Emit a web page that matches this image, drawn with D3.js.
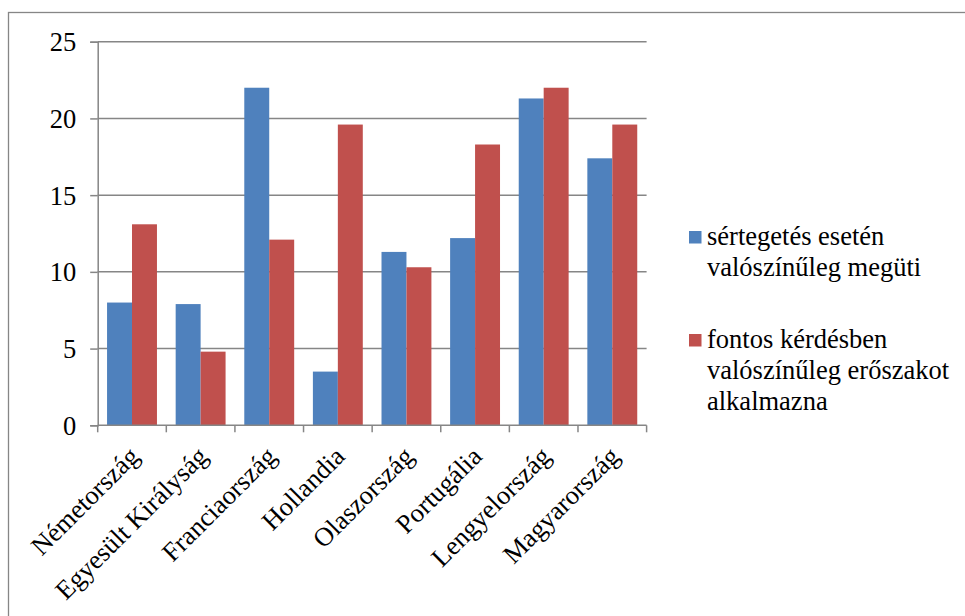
<!DOCTYPE html>
<html>
<head>
<meta charset="utf-8">
<script src="https://cdn.jsdelivr.net/npm/d3@7"></script>
<style>
	body { margin: 0; background: #fff; }
</style>
</head>
<body>
<svg></svg>
<script>
	// data
	let categories = ['Németország', 'Egyesült Királyság', 'Franciaország', 'Hollandia',
		'Olaszország', 'Portugália', 'Lengyelország', 'Magyarország'];
	let seriesNames = [
		['sértegetés esetén', 'valószínűleg megüti'],
		['fontos kérdésben', 'valószínűleg erőszakot', 'alkalmazna']
	];
	let hitValues = [8.0, 7.9, 22.0, 3.5, 11.3, 12.2, 21.3, 17.4];
	let forceValues = [13.1, 4.8, 12.1, 19.6, 10.3, 18.3, 22.0, 19.6];
	let yTicks = [0, 5, 10, 15, 20, 25];
	let colors = ['#4F81BD', '#C0504D'];

	let width = 965;
	let height = 616;
	let plot = { left: 97.7, right: 646.6, top: 41.7, bottom: 425.3 };
	let serif = 'Liberation Serif';
	let fontSize = 26.5;

	let svg = d3.select('svg')
		.attr('width', width)
		.attr('height', height)
		.attr('font-family', serif);

	// outer chart frame
	svg.append('rect')
		.attr('x', 8.5)
		.attr('y', 12.5)
		.attr('width', 1000)
		.attr('height', 700)
		.attr('fill', 'none')
		.attr('stroke', '#868686')
		.attr('stroke-width', 1.3);

	let x = d3.scaleBand()
		.domain(categories)
		.range([plot.left, plot.right]);

	let y = d3.scaleLinear()
		.domain([0, 25])
		.range([plot.bottom, plot.top]);

	let gap = x.bandwidth() * 0.75 / 2.75 / 2;
	let x1 = d3.scaleBand()
		.domain([0, 1])
		.range([gap, x.bandwidth() - gap]);

	// gridlines
	svg.append('g')
		.selectAll('line')
		.data(yTicks.slice(1))
		.enter()
		.append('line')
		.attr('x1', plot.left)
		.attr('x2', plot.right)
		.attr('y1', function(d) { return y(d); })
		.attr('y2', function(d) { return y(d); })
		.attr('stroke', '#868686')
		.attr('stroke-width', 1.5);

	// bars
	let rows = categories.map(function(c, i) {
		return { cat: c, vals: [hitValues[i], forceValues[i]] };
	});

	svg.append('g')
		.selectAll('g')
		.data(rows)
		.enter()
		.append('g')
		.attr('transform', function(d) { return 'translate(' + x(d.cat) + ',0)'; })
		.selectAll('rect')
		.data(function(d) { return d.vals; })
		.enter()
		.append('rect')
		.attr('x', function(d, i) { return x1(i); })
		.attr('width', x1.bandwidth())
		.attr('y', function(d) { return y(d); })
		.attr('height', function(d) { return y(0) - y(d); })
		.attr('fill', function(d, i) { return colors[i]; });

	// y axis
	let yAxis = svg.append('g')
		.attr('transform', 'translate(' + plot.left + ',0)')
		.call(d3.axisLeft(y).tickValues(yTicks).tickSize(7.5).tickPadding(14));
	yAxis.attr('font-family', serif).attr('font-size', fontSize);
	yAxis.select('.domain').attr('stroke', '#868686').attr('stroke-width', 1.5);
	yAxis.selectAll('.tick line').attr('stroke', '#868686').attr('stroke-width', 1.5);
	yAxis.selectAll('.tick text')
		.attr('fill', '#000')
		.attr('dy', '0.34em');

	// x axis
	let boundaries = categories.map(function(c) { return x(c); }).concat([plot.right]);
	let xAxis = svg.append('g');
	xAxis.append('line')
		.attr('x1', plot.left)
		.attr('x2', plot.right)
		.attr('y1', plot.bottom)
		.attr('y2', plot.bottom)
		.attr('stroke', '#868686')
		.attr('stroke-width', 1.5);
	xAxis.selectAll('.xt')
		.data(boundaries)
		.enter()
		.append('line')
		.attr('class', 'xt')
		.attr('x1', function(d) { return d; })
		.attr('x2', function(d) { return d; })
		.attr('y1', plot.bottom)
		.attr('y2', plot.bottom + 7)
		.attr('stroke', '#868686')
		.attr('stroke-width', 1.5);

	xAxis.selectAll('text')
		.data(categories)
		.enter()
		.append('text')
		.attr('transform', function(d) {
			return 'translate(' + (x(d) + x.bandwidth() / 2 + 2) + ',' + (plot.bottom + 26) + ') rotate(-45)';
		})
		.attr('text-anchor', 'end')
		.attr('dy', '0.35em')
		.attr('font-family', serif)
		.attr('font-size', fontSize)
		.attr('fill', '#000')
		.text(function(d) { return d; });

	// legend
	let legendY = [231, 334];
	let legend = svg.append('g');
	seriesNames.forEach(function(lines, i) {
		legend.append('rect')
			.attr('x', 689)
			.attr('y', legendY[i])
			.attr('width', 12.5)
			.attr('height', 12.5)
			.attr('fill', colors[i]);
		legend.append('text')
			.attr('x', 707)
			.attr('y', legendY[i] + 14)
			.attr('font-family', serif)
			.attr('font-size', fontSize)
			.attr('fill', '#000')
			.selectAll('tspan')
			.data(lines)
			.enter()
			.append('tspan')
			.attr('x', 707)
			.attr('dy', function(d, j) { return j === 0 ? 0 : 31; })
			.text(function(d) { return d; });
	});
</script>
</body>
</html>
